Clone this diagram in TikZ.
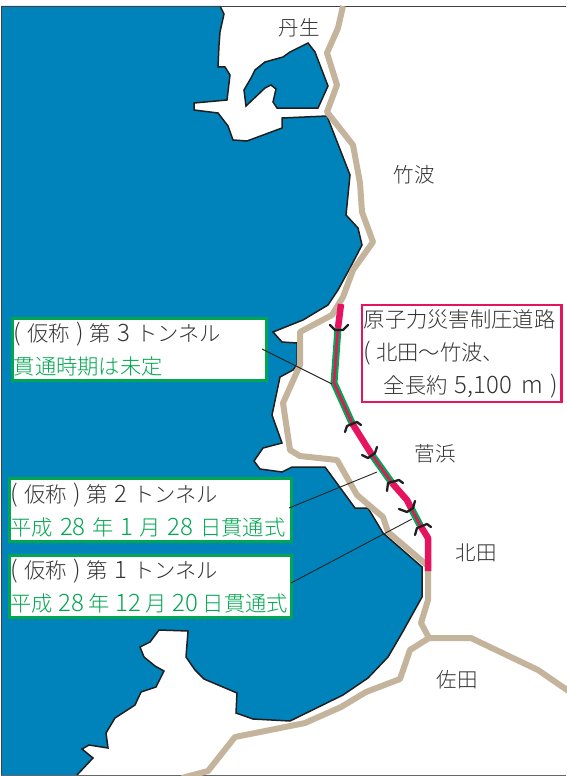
\documentclass[tikz,border=0pt]{standalone}
\usepackage{fontspec}
\setmainfont{Noto Sans CJK JP}[UprightFont=* Light]
\newcommand{\lt}[1]{{\fontsize{24}{33}\selectfont #1}}
\newcommand{\gp}{\hspace{6.1pt}}
\newcommand{\gb}{\hspace{6.7pt}}
\newcommand{\gc}{\hspace{5pt}}
\definecolor{seablue}{HTML}{0083BA}
\definecolor{roadbeige}{HTML}{C4B49C}
\definecolor{tgreen}{HTML}{00A650}
\definecolor{tred}{HTML}{E6135F}
\definecolor{inkgray}{HTML}{333333}
\tikzset{
  coast/.style={draw=black!88,line width=1.5pt,line join=miter,fill=#1},
  road/.style={roadbeige,line width=6pt,line join=round},
  routeopen/.style={tred,line width=6.5pt,line join=round},
  tunnelgreen/.style={tgreen,line width=7pt},
  tunnelred/.style={tred,line width=2.6pt},
  portal/.style={black!88,line width=2.3pt,line cap=round,line join=round},
  leader/.style={black!85,line width=0.9pt},
  place/.style={font=\fontsize{20.5}{24}\selectfont,text=inkgray,inner sep=0pt},
  labelbox/.style={draw=#1,line width=2.6pt,fill=white,anchor=north west,outer sep=0pt,inner xsep=0.8pt,inner ysep=0pt,
    align=left,text=inkgray,font=\fontsize{21.3}{33}\selectfont}
}
\begin{document}
\begin{tikzpicture}[x=1pt,y=-1pt]
\useasboundingbox (0,0) rectangle (566,776);
\fill[white] (0,0) rectangle (566,776);
% sea
\fill[seablue] (1,6) -- (220,6) -- (224,14) -- (220,32) -- (219,45) -- (218,67) -- (225,67) -- (230,75) -- (227,100) -- (194,103) -- (194,110) -- (218,113) -- (228,126) -- (233,140) -- (247,141) -- (282,128) -- (282,118) -- (327,116) -- (350,175) -- (346,215) -- (358,228) -- (362,245) -- (350,268) -- (338,290) -- (328,305) -- (303,320) -- (273,332) -- (282,342) -- (297,343) -- (297,365) -- (293,370) -- (280,377) -- (272,415) -- (282,443) -- (263,448) -- (254,461) -- (260,469) -- (282,472) -- (292,467) -- (325,467) -- (355,508) -- (368,508) -- (383,533) -- (422,567) -- (422,597) -- (402,633) -- (388,657) -- (368,678) -- (343,695) -- (290,721) -- (253,719) -- (236,713) -- (237,693) -- (204,679) -- (195,670) -- (186,657) -- (188,631) -- (159,630) -- (150,642) -- (140,647) -- (144,657) -- (155,666) -- (164,671) -- (156,687) -- (141,692) -- (135,705) -- (115,718) -- (106,733) -- (108,748) -- (89,745) -- (82,749) -- (93,758) -- (77,775) -- (1,775) -- cycle;
% coast line
\draw[coast=none,fill=none] (220,6) -- (224,14) -- (220,32) -- (219,45) -- (218,67) -- (225,67) -- (230,75) -- (227,100) -- (194,103) -- (194,110) -- (218,113) -- (228,126) -- (233,140) -- (247,141) -- (282,128) -- (282,118) -- (327,116) -- (350,175) -- (346,215) -- (358,228) -- (362,245) -- (350,268) -- (338,290) -- (328,305) -- (303,320) -- (273,332) -- (282,342) -- (297,343) -- (297,365) -- (293,370) -- (280,377) -- (272,415) -- (282,443) -- (263,448) -- (254,461) -- (260,469) -- (282,472) -- (292,467) -- (325,467) -- (355,508) -- (368,508) -- (383,533) -- (422,567) -- (422,597) -- (402,633) -- (388,657) -- (368,678) -- (343,695) -- (290,721) -- (253,719) -- (236,713) -- (237,693) -- (204,679) -- (195,670) -- (186,657) -- (188,631) -- (159,630) -- (150,642) -- (140,647) -- (144,657) -- (155,666) -- (164,671) -- (156,687) -- (141,692) -- (135,705) -- (115,718) -- (106,733) -- (108,748) -- (89,745) -- (82,749) -- (93,758) -- (77,775);
% inner bay
\draw[coast=seablue] (308,43) -- (315,52) -- (328,86) -- (318,108) -- (277,108) -- (273,102) -- (276,89) -- (271,85) -- (265,88) -- (246,106) -- (244,90) -- (251,78) -- (255,70) -- (265,62) -- (283,57) -- (290,52) -- cycle;
% frame
\draw[black!75,line width=0.7pt] (1,776) -- (1,6) -- (566,6);
\draw[black!60,line width=0.7pt] (1,775.4) -- (566,775.4);
% roads
\draw[road] (343,6) -- (338,28) -- (327,53) -- (337,85) -- (327,112) -- (353,145) -- (360,183) -- (362,212) -- (373,242) -- (353,270) -- (343,297) -- (332,315) -- (300,332) -- (300,365) -- (283,403) -- (290,450) -- (300,456) -- (337,460) -- (357,495) -- (383,517) -- (388,532) -- (428,566);
\draw[road] (428,570) -- (428,600) -- (421,623) -- (429,638) -- (471,638) -- (538,670) -- (570,692);
\draw[road] (429,638) -- (410,650) -- (400,679) -- (366,692) -- (341,707) -- (305,723) -- (235,737) -- (208,771) -- (182,778);
% route
\coordinate (r1) at (341,304);
\coordinate (r2) at (338,328);
\coordinate (r3) at (334,383);
\coordinate (r4) at (352,423);
\coordinate (r5) at (372,455);
\coordinate (r6) at (392,483);
\coordinate (r7) at (407,500);
\coordinate (r8) at (411,508);
\coordinate (r9) at (420,525);
\coordinate (r10) at (428,538);
\coordinate (r11) at (428,571);
\draw[tunnelgreen] (r2) -- (r3) -- (r4);
\draw[tunnelred] (r2) -- (r3) -- (r4);
\draw[tunnelgreen] (r5) -- (r6);
\draw[tunnelred] (r5) -- (r6);
\draw[tunnelgreen] (r8) -- (r9);
\draw[tunnelred] (r8) -- (r9);
\draw[routeopen] (r1) -- (r2);
\draw[routeopen] (r4) -- (r5);
\draw[routeopen] (r6) -- (r7) -- (r8);
\draw[routeopen] (r9) -- (r10) -- (r11);
% portals
\draw[portal] (330,325) -- (335,330) -- (343,330) -- (348,325);
\draw[portal] (345,432) -- (347,426) -- (357,422) -- (361,425);
\draw[portal] (362,455) -- (368,458) -- (375,453) -- (377,447);
\draw[portal] (387,491) -- (388,483) -- (399,480) -- (403,483);
\draw[portal] (399,509) -- (407,512) -- (413,508) -- (415,501);
\draw[portal] (415,535) -- (417,528) -- (427,524) -- (431,527);
% boxes
\node[labelbox=tgreen,minimum width=254pt,minimum height=62pt,text width=251pt] (b3) at (12.2,318.2) {\mbox{\lt{(}\gp 仮称\gp\lt{)}\gp 第\gp\lt{3}\gp トンネル}\\{\color{tgreen}貫通時期は未定}};
\node[labelbox=tgreen,minimum width=282pt,minimum height=63pt,text width=279pt] (b2) at (9.2,478.2) {\mbox{\lt{(}\gp 仮称\gp\lt{)}\gp 第\gp\lt{2}\gp トンネル}\\\mbox{\color{tgreen}平成\gb\lt{28}\gb 年\gb\lt{1}\gb 月\gb\lt{28}\gb 日貫通式}};
\node[labelbox=tgreen,minimum width=282pt,minimum height=62pt,text width=279pt] (b1) at (9.2,555.2) {\mbox{\lt{(}\gp 仮称\gp\lt{)}\gp 第\gp\lt{1}\gp トンネル}\\\mbox{\color{tgreen}平成\gc\lt{28}\gc 年\gc\lt{12}\gc 月\gc\lt{20}\gc 日貫通式}};
\node[labelbox=tred,minimum width=199.5pt,minimum height=97pt,text width=196pt] (b0) at (362,305) {原子力災害制圧道路\\\mbox{\lt{(}\hspace{5pt}北田～竹波、}\\\mbox{\hspace*{20pt}全長約\hspace{7pt}\lt{5,100}\hspace{10pt}\lt{m}\hspace{7pt}\lt{)}}};
% leaders
\coordinate (l3a) at (262,349);
\coordinate (l3b) at (332,384);
\coordinate (l2a) at (289,508);
\coordinate (l2b) at (377,472);
\coordinate (l1a) at (291,583);
\coordinate (l1b) at (412,519);
\draw[leader] (l3a) -- (l3b);
\draw[leader] (l2a) -- (l2b);
\draw[leader] (l1a) -- (l1b);
% place names
\node[place] (p1) at (299,28) {丹生};
\node[place] (p2) at (414,175) {竹波};
\node[place] (p3) at (435,454) {菅浜};
\node[place] (p4) at (476,553) {北田};
\node[place] (p5) at (457,680) {佐田};
\end{tikzpicture}
\end{document}
